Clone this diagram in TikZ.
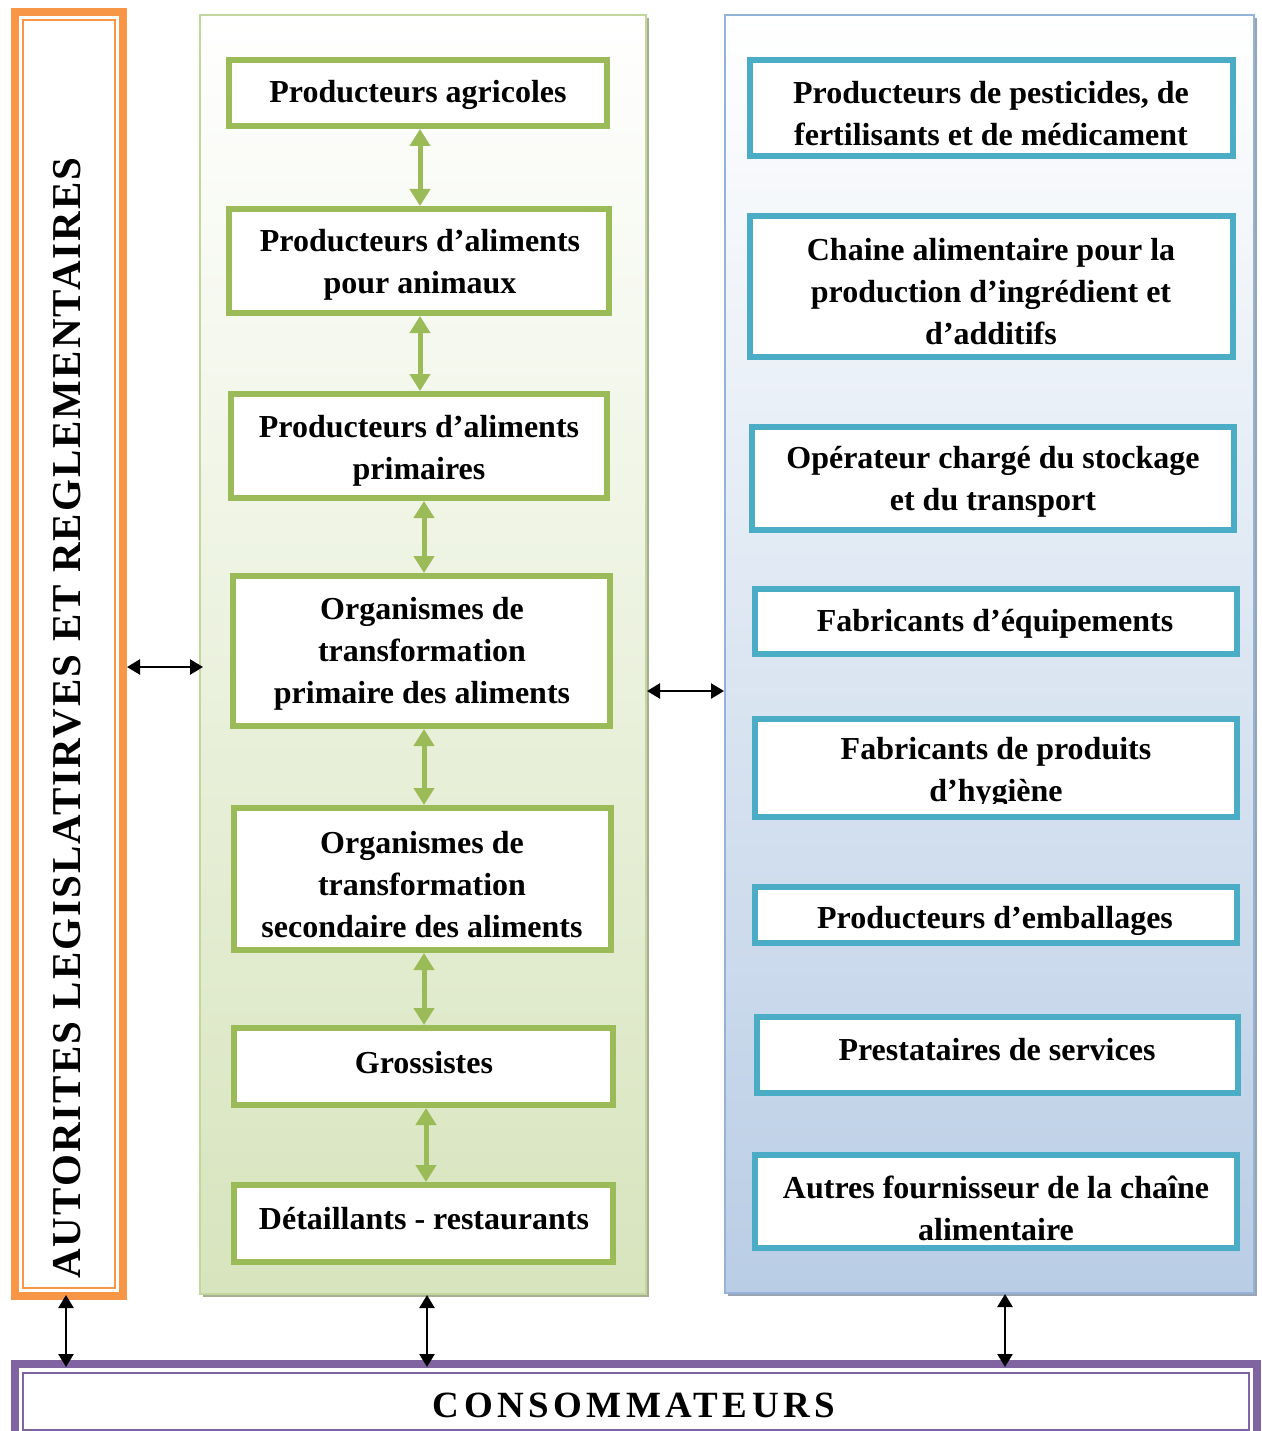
\documentclass[tikz,border=0pt]{standalone}
\usepackage{fontspec}
\setmainfont{Liberation Serif}
\newfontfamily\vertfont[LetterSpace=5]{Liberation Serif}
\newfontfamily\consfont[LetterSpace=12]{Liberation Serif}
\usetikzlibrary{arrows.meta,shadows}

\definecolor{orangeA}{HTML}{F79646}
\definecolor{purpleA}{HTML}{8064A2}
\definecolor{greenA}{HTML}{9BBB59}
\definecolor{greenBorder}{HTML}{C3D69B}
\definecolor{greenFill}{HTML}{D7E4BD}
\definecolor{greenShadow}{HTML}{A6AE94}
\definecolor{blueA}{HTML}{4BACC6}
\definecolor{blueBorder}{HTML}{95B3D7}
\definecolor{blueFill}{HTML}{B9CDE5}
\definecolor{blueShadow}{HTML}{98A4B4}

\begin{document}
\begin{tikzpicture}[x=1pt,y=-1pt,
  txt/.style={font=\fontsize{32}{42}\selectfont\bfseries, align=center, inner sep=0pt},
  gbox/.style={draw=greenA, line width=6pt, fill=white, inner sep=0pt},
  bbox/.style={draw=blueA, line width=6pt, fill=white, inner sep=0pt},
  frame/.style={line width=#1, inner sep=0pt},
  garrow/.style={draw=greenA, line width=5pt,
    {Triangle[length=17pt,width=20pt]}-{Triangle[length=17pt,width=20pt]}},
  karrow/.style={draw=black, line width=2.5pt,
    {Triangle[length=13pt,width=15pt]}-{Triangle[length=13pt,width=15pt]}},
]
\useasboundingbox (0,0) rectangle (1261,1431);
\clip (0,0) rectangle (1261,1431);

% authorities frame (left)
\node[frame=8pt, draw=orangeA, fill=white, minimum width=108pt, minimum height=1284pt] (auth) at (69,654) {};
\draw[orangeA, line width=2pt] ([shift={(12,12)}]auth.north west) rectangle ([shift={(-12,-12)}]auth.south east);
\node[rotate=90, inner sep=0pt, font=\vertfont\bfseries\fontsize{41}{43}\selectfont] (authtxt) at (67,718)
  {AUTORITES LEGISLATIRVES ET REGLEMENTAIRES};

% consumers bar (bottom)
\node[frame=8pt, draw=purpleA, fill=white, minimum width=1242pt, minimum height=74pt] (cons) at (636,1401) {};
\draw[purpleA, line width=2pt] ([shift={(12,13)}]cons.north west) rectangle ([shift={(-12,-12)}]cons.south east);
\node[inner sep=0pt, font=\consfont\bfseries\fontsize{37}{39}\selectfont] (constxt) at (634,1405) {CONSOMMATEURS};

% food chain column
\node[frame=2pt, draw=greenBorder, top color=white, bottom color=greenFill,
  drop shadow={shadow xshift=3pt, shadow yshift=-3pt, opacity=1, fill=greenShadow},
  minimum width=446pt, minimum height=1279pt] (gcol) at (423,654.5) {};

% suppliers column
\node[frame=2pt, draw=blueBorder, top color=white, bottom color=blueFill,
  drop shadow={shadow xshift=3pt, shadow yshift=-3pt, opacity=1, fill=blueShadow},
  minimum width=529pt, minimum height=1278pt] (bcol) at (989.5,654) {};

% food chain boxes
\node[gbox, minimum width=378pt, minimum height=66pt]  (g1) at (418,93) {};
\node[gbox, minimum width=380pt, minimum height=104pt] (g2) at (419,261) {};
\node[gbox, minimum width=376pt, minimum height=104pt] (g3) at (419,446) {};
\node[gbox, minimum width=377pt, minimum height=150pt] (g4) at (421.5,651) {};
\node[gbox, minimum width=377pt, minimum height=142pt] (g5) at (422.5,879) {};
\node[gbox, minimum width=379pt, minimum height=77pt]  (g6) at (423.5,1066.5) {};
\node[gbox, minimum width=379pt, minimum height=77pt]  (g7) at (423.5,1223.5) {};

\node[txt] (g1t) at (418,95) {Producteurs agricoles};
\node[txt] (g2t) at (420,265) {Producteurs d’aliments\\pour animaux};
\node[txt] (g3t) at (419,451) {Producteurs d’aliments\\primaires};
\node[txt] (g4t) at (422,654) {Organismes de\\transformation\\primaire des aliments};
\node[txt] (g5t) at (422,885) {Organismes de\\transformation\\secondaire des aliments};
\node[txt] (g6t) at (424,1063) {Grossistes};
\node[txt] (g7t) at (424,1219) {Détaillants - restaurants};

% arrow lanes between the food chain boxes
\coordinate (ga1) at (420,0);
\coordinate (ga2) at (420,0);
\coordinate (ga3) at (424,0);
\coordinate (ga4) at (424,0);
\coordinate (ga5) at (424,0);
\coordinate (ga6) at (426,0);
\draw[garrow] (g1.south -| ga1) -- (g2.north -| ga1);
\draw[garrow] (g2.south -| ga2) -- (g3.north -| ga2);
\draw[garrow] (g3.south -| ga3) -- (g4.north -| ga3);
\draw[garrow] (g4.south -| ga4) -- (g5.north -| ga4);
\draw[garrow] (g5.south -| ga5) -- (g6.north -| ga5);
\draw[garrow] (g6.south -| ga6) -- (g7.north -| ga6);

% supplier boxes
\node[bbox, minimum width=483pt, minimum height=96pt]  (b1) at (991.5,108) {};
\node[bbox, minimum width=483pt, minimum height=141pt] (b2) at (991.5,286.5) {};
\node[bbox, minimum width=482pt, minimum height=103pt] (b3) at (993,478.5) {};
\node[bbox, minimum width=482pt, minimum height=65pt]  (b4) at (996,621.5) {};
\node[bbox, minimum width=482pt, minimum height=98pt]  (b5) at (996,768) {};
\node[bbox, minimum width=482pt, minimum height=56pt]  (b6) at (996,915) {};
\node[bbox, minimum width=481pt, minimum height=76pt]  (b7) at (997.5,1055) {};
\node[bbox, minimum width=482pt, minimum height=93pt]  (b8) at (996,1201.5) {};

\node[txt] (b1t) at (991,114) {Producteurs de pesticides, de\\fertilisants et de médicament};
\node[txt] (b2t) at (991,292) {Chaine alimentaire pour la\\production d’ingrédient et\\d’additifs};
\node[txt] (b3t) at (993,482) {Opérateur chargé du stockage\\et du transport};
\node[txt] (b4t) at (995,623.5) {Fabricants d’équipements};
\begin{scope}
  \clip (752,716) rectangle (1240,803);
  \node[txt] (b5t) at (996,773) {Fabricants de produits\\d’hygiène};
\end{scope}
\begin{scope}
  \clip (752,884) rectangle (1240,935);
  \node[txt] (b6t) at (995,920.5) {Producteurs d’emballages};
\end{scope}
\node[txt] (b7t) at (997,1050) {Prestataires de services};
\node[txt] (b8t) at (996,1208.5) {Autres fournisseur de la chaîne\\alimentaire};

% links between the columns and with the consumers
\coordinate (hy1) at (0,667);
\coordinate (hy2) at (0,691);
\coordinate (vx1) at (66,0);
\coordinate (vx2) at (427,0);
\coordinate (vx3) at (1005,0);
\draw[karrow, shorten >=-4pt] (auth.east |- hy1) -- (gcol.west |- hy1);
\draw[karrow] (gcol.east |- hy2) -- (bcol.west |- hy2);
\draw[karrow, shorten <=-5pt, shorten >=-7pt] (auth.south -| vx1) -- (cons.north -| vx1);
\draw[karrow, shorten >=-7pt] (gcol.south -| vx2) -- (cons.north -| vx2);
\draw[karrow, shorten >=-7pt] (bcol.south -| vx3) -- (cons.north -| vx3);
\end{tikzpicture}
\end{document}
